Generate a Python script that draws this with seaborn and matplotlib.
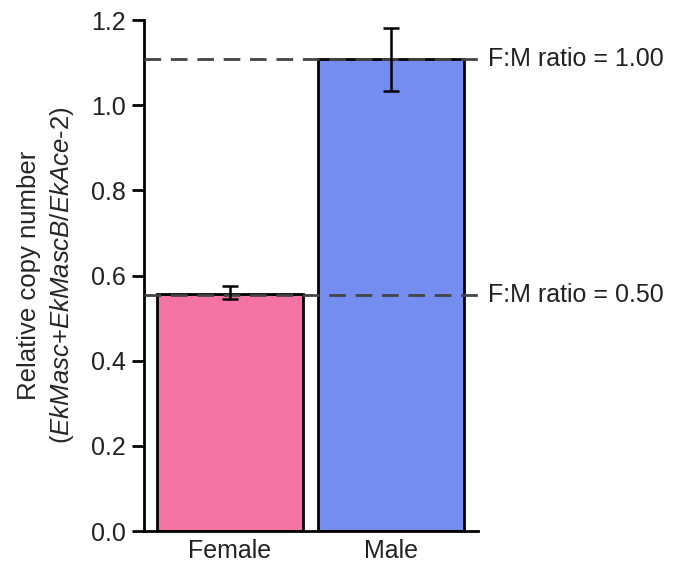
import numpy as np
import pandas as pd
import seaborn as sns
import matplotlib.pyplot as plt

sns.set_style('ticks')
plt.rcParams['font.family'] = ['Liberation Sans', 'DejaVu Sans']
plt.rcParams['mathtext.fontset'] = 'custom'
plt.rcParams['mathtext.rm'] = 'Liberation Sans'
plt.rcParams['mathtext.it'] = 'Liberation Sans:italic'

# values
sexes = ['Female', 'Male']
copy_number = [0.557, 1.108]
err_low = [0.544, 1.034]
err_high = [0.575, 1.182]
bar_colors = ['#F374A2', '#748DEF']
ratio_lines = [copy_number[1] / 2, copy_number[1]]
ratio_labels = ['F:M ratio = 0.50', 'F:M ratio = 1.00']

df = pd.DataFrame({'Sex': sexes, 'Copy': copy_number})

fig = plt.figure(figsize=(6.74, 5.70), dpi=100)
ax = fig.add_axes([0.2136, 0.0684, 0.4955, 0.8965])

sns.barplot(data=df, x='Sex', y='Copy', hue='Sex', palette=bar_colors,
            saturation=1, width=0.905, edgecolor='black', linewidth=2,
            legend=False, ax=ax)

# error bars
lo = np.array(copy_number) - np.array(err_low)
hi = np.array(err_high) - np.array(copy_number)
ax.errorbar(range(len(sexes)), copy_number, yerr=[lo, hi], fmt='none',
            ecolor='black', elinewidth=1.8, capsize=5.5, capthick=1.8, zorder=5)

# F:M ratio reference lines
for yv, lab in zip(ratio_lines, ratio_labels):
    ax.axhline(yv, color='#444444', lw=2, ls=(0, (6, 3.5)), zorder=4)
    ax.text(1.03, yv, lab, transform=ax.get_yaxis_transform(),
            fontsize=18, va='center', ha='left', color='#222222')

ax.set_xlim(-0.533, 1.536)
ax.set_ylim(0, 1.2)
ax.set_yticks([0.0, 0.2, 0.4, 0.6, 0.8, 1.0, 1.2])
ax.set_yticklabels(['0.0', '0.2', '0.4', '0.6', '0.8', '1.0', '1.2'])
ax.set_xlabel('')
ax.set_ylabel('Relative copy number\n($\\mathit{EkMasc}$+$\\mathit{EkMascB/EkAce}$-2)',
              fontsize=18.5, labelpad=11, linespacing=1.3)
ax.tick_params(axis='y', labelsize=18, length=9, width=2, color='black',
               labelcolor='#222222', pad=4)
ax.tick_params(axis='x', labelsize=18, length=0, labelcolor='#222222', pad=6)

for side in ['left', 'bottom']:
    ax.spines[side].set_linewidth(2)
    ax.spines[side].set_color('black')
sns.despine(ax=ax)

fig.savefig('out.png', dpi=100)
